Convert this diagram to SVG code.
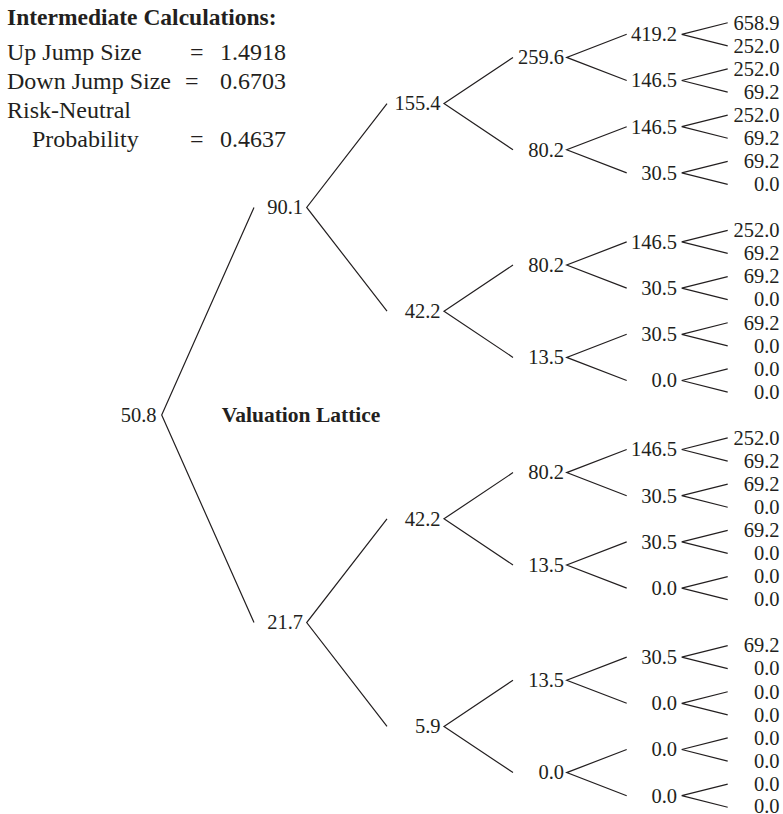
<svg xmlns="http://www.w3.org/2000/svg" width="783" height="814" viewBox="0 0 783 814">
<style>
text{font-family:"Liberation Serif","Times New Roman",serif;fill:#231f20}
.h{font-size:24px}
.hb{font-size:23.5px;font-weight:bold}
.t{font-size:20.5px;text-anchor:end}
.e{text-anchor:end}
.title{font-size:21.5px;font-weight:bold}
#edges path{fill:none;stroke:#231f20;stroke-width:1.2;stroke-linejoin:miter}
</style>
<rect width="783" height="814" fill="#ffffff"/>
<g id="header">
<text class="hb" x="7" y="25">Intermediate Calculations:</text>
<text class="h" x="7" y="60">Up Jump Size</text><text class="h" x="190" y="60">=</text><text class="h e" x="286" y="60">1.4918</text>
<text class="h" x="7" y="89">Down Jump Size</text><text class="h" x="185" y="89">=</text><text class="h e" x="286" y="89">0.6703</text>
<text class="h" x="7" y="118">Risk-Neutral</text>
<text class="h" x="32" y="147">Probability</text><text class="h" x="190" y="147">=</text><text class="h e" x="286" y="147">0.4637</text>
</g>
<text class="title" x="221.7" y="422">Valuation Lattice</text>
<g id="edges">
<path d="M254 207.4L161.7 415L254 622.6"/>
<path d="M387 103.6L306.7 207.4L387 311.2"/>
<path d="M387 518.8L306.7 622.6L387 726.4"/>
<path d="M513 57.4L444 103.6L513 149.8"/>
<path d="M513 265L444 311.2L513 357.4"/>
<path d="M513 472.6L444 518.8L513 565"/>
<path d="M513 680.2L444 726.4L513 772.6"/>
<path d="M626.7 34.3L566.7 57.4L626.7 80.5"/>
<path d="M626.7 126.7L566.7 149.8L626.7 172.9"/>
<path d="M626.7 241.9L566.7 265L626.7 288.1"/>
<path d="M626.7 334.3L566.7 357.4L626.7 380.5"/>
<path d="M626.7 449.5L566.7 472.6L626.7 495.7"/>
<path d="M626.7 541.9L566.7 565L626.7 588.1"/>
<path d="M626.7 657.1L566.7 680.2L626.7 703.3"/>
<path d="M626.7 749.5L566.7 772.6L626.7 795.7"/>
<path d="M727.7 22.75L681.7 34.3L727.7 45.85"/>
<path d="M727.7 68.95L681.7 80.5L727.7 92.05"/>
<path d="M727.7 115.15L681.7 126.7L727.7 138.25"/>
<path d="M727.7 161.35L681.7 172.9L727.7 184.45"/>
<path d="M727.7 230.35L681.7 241.9L727.7 253.45"/>
<path d="M727.7 276.55L681.7 288.1L727.7 299.65"/>
<path d="M727.7 322.75L681.7 334.3L727.7 345.85"/>
<path d="M727.7 368.95L681.7 380.5L727.7 392.05"/>
<path d="M727.7 437.95L681.7 449.5L727.7 461.05"/>
<path d="M727.7 484.15L681.7 495.7L727.7 507.25"/>
<path d="M727.7 530.35L681.7 541.9L727.7 553.45"/>
<path d="M727.7 576.55L681.7 588.1L727.7 599.65"/>
<path d="M727.7 645.55L681.7 657.1L727.7 668.65"/>
<path d="M727.7 691.75L681.7 703.3L727.7 714.85"/>
<path d="M727.7 737.95L681.7 749.5L727.7 761.05"/>
<path d="M727.7 784.15L681.7 795.7L727.7 807.25"/>
</g>
<g id="n0-0"><text class="t" x="156.5" y="421.8">50.8</text></g>
<g id="n1-0"><text class="t" x="303" y="214.2">90.1</text></g>
<g id="n1-1"><text class="t" x="303" y="629.4">21.7</text></g>
<g id="n2-0"><text class="t" x="440.5" y="110.4">155.4</text></g>
<g id="n2-1"><text class="t" x="440.5" y="318">42.2</text></g>
<g id="n2-2"><text class="t" x="440.5" y="525.6">42.2</text></g>
<g id="n2-3"><text class="t" x="440.5" y="733.2">5.9</text></g>
<g id="n3-0"><text class="t" x="564" y="64.2">259.6</text></g>
<g id="n3-1"><text class="t" x="564" y="156.6">80.2</text></g>
<g id="n3-2"><text class="t" x="564" y="271.8">80.2</text></g>
<g id="n3-3"><text class="t" x="564" y="364.2">13.5</text></g>
<g id="n3-4"><text class="t" x="564" y="479.4">80.2</text></g>
<g id="n3-5"><text class="t" x="564" y="571.8">13.5</text></g>
<g id="n3-6"><text class="t" x="564" y="687">13.5</text></g>
<g id="n3-7"><text class="t" x="564" y="779.4">0.0</text></g>
<g id="n4-0"><text class="t" x="677" y="41.1">419.2</text></g>
<g id="n4-1"><text class="t" x="677" y="87.3">146.5</text></g>
<g id="n4-2"><text class="t" x="677" y="133.5">146.5</text></g>
<g id="n4-3"><text class="t" x="677" y="179.7">30.5</text></g>
<g id="n4-4"><text class="t" x="677" y="248.7">146.5</text></g>
<g id="n4-5"><text class="t" x="677" y="294.9">30.5</text></g>
<g id="n4-6"><text class="t" x="677" y="341.1">30.5</text></g>
<g id="n4-7"><text class="t" x="677" y="387.3">0.0</text></g>
<g id="n4-8"><text class="t" x="677" y="456.3">146.5</text></g>
<g id="n4-9"><text class="t" x="677" y="502.5">30.5</text></g>
<g id="n4-10"><text class="t" x="677" y="548.7">30.5</text></g>
<g id="n4-11"><text class="t" x="677" y="594.9">0.0</text></g>
<g id="n4-12"><text class="t" x="677" y="663.9">30.5</text></g>
<g id="n4-13"><text class="t" x="677" y="710.1">0.0</text></g>
<g id="n4-14"><text class="t" x="677" y="756.3">0.0</text></g>
<g id="n4-15"><text class="t" x="677" y="802.5">0.0</text></g>
<g id="n5-0"><text class="t" x="779.5" y="29.55">658.9</text></g>
<g id="n5-1"><text class="t" x="779.5" y="52.65">252.0</text></g>
<g id="n5-2"><text class="t" x="779.5" y="75.75">252.0</text></g>
<g id="n5-3"><text class="t" x="779.5" y="98.85">69.2</text></g>
<g id="n5-4"><text class="t" x="779.5" y="121.95">252.0</text></g>
<g id="n5-5"><text class="t" x="779.5" y="145.05">69.2</text></g>
<g id="n5-6"><text class="t" x="779.5" y="168.15">69.2</text></g>
<g id="n5-7"><text class="t" x="779.5" y="191.25">0.0</text></g>
<g id="n5-8"><text class="t" x="779.5" y="237.15">252.0</text></g>
<g id="n5-9"><text class="t" x="779.5" y="260.25">69.2</text></g>
<g id="n5-10"><text class="t" x="779.5" y="283.35">69.2</text></g>
<g id="n5-11"><text class="t" x="779.5" y="306.45">0.0</text></g>
<g id="n5-12"><text class="t" x="779.5" y="329.55">69.2</text></g>
<g id="n5-13"><text class="t" x="779.5" y="352.65">0.0</text></g>
<g id="n5-14"><text class="t" x="779.5" y="375.75">0.0</text></g>
<g id="n5-15"><text class="t" x="779.5" y="398.85">0.0</text></g>
<g id="n5-16"><text class="t" x="779.5" y="444.75">252.0</text></g>
<g id="n5-17"><text class="t" x="779.5" y="467.85">69.2</text></g>
<g id="n5-18"><text class="t" x="779.5" y="490.95">69.2</text></g>
<g id="n5-19"><text class="t" x="779.5" y="514.05">0.0</text></g>
<g id="n5-20"><text class="t" x="779.5" y="537.15">69.2</text></g>
<g id="n5-21"><text class="t" x="779.5" y="560.25">0.0</text></g>
<g id="n5-22"><text class="t" x="779.5" y="583.35">0.0</text></g>
<g id="n5-23"><text class="t" x="779.5" y="606.45">0.0</text></g>
<g id="n5-24"><text class="t" x="779.5" y="652.35">69.2</text></g>
<g id="n5-25"><text class="t" x="779.5" y="675.45">0.0</text></g>
<g id="n5-26"><text class="t" x="779.5" y="698.55">0.0</text></g>
<g id="n5-27"><text class="t" x="779.5" y="721.65">0.0</text></g>
<g id="n5-28"><text class="t" x="779.5" y="744.75">0.0</text></g>
<g id="n5-29"><text class="t" x="779.5" y="767.85">0.0</text></g>
<g id="n5-30"><text class="t" x="779.5" y="790.95">0.0</text></g>
<g id="n5-31"><text class="t" x="779.5" y="812.5">0.0</text></g>
</svg>
